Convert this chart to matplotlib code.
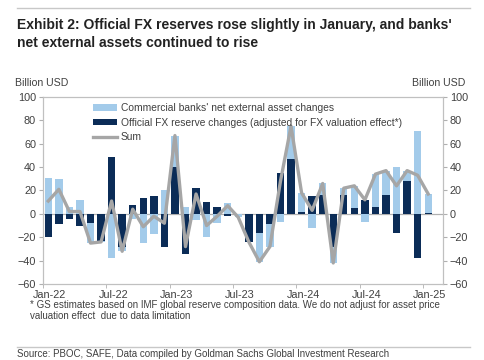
import matplotlib
matplotlib.use("Agg")
import numpy as np
import matplotlib.pyplot as plt

# monthly data, Jan-22 .. Jan-25 (billion USD)
months = ["Jan-22", "Jul-22", "Jan-23", "Jul-23", "Jan-24", "Jul-24", "Jan-25"]
commercial = [31, 30, 6, 12, -17, -1, -38, -4, -4, -25, -17, 20, 27, 6, -5, -20, -8, 9, -3,
              0, -25, -19, -7, 28, 16, -12, 10, -14, 6, 19, -7, 28, 21, 40, 9, 71, 16]
official = [-20, -9, -4, -10, -8, -23, 49, -28, 8, 14, 15, -28, 40, -34, 22, 10, 6, -2, 0,
            -24, -16, -9, 35, 47, 2, 15, 16, -28, 16, 5, 12, 6, 16, -16, 28, -38, 1]
total = [11, 21, 2, 2, -25, -24, 11, -32, 4, -11, -2, -8, 67, -28, 17, -10, -2, 7, -3,
         -24, -41, -28, 28, 75, 18, 3, 26, -42, 22, 24, 12, 34, 37, 24, 37, 33, 17]

LIGHT = "#a3cbea"
DARK = "#0b2c57"
GREY = "#a6a6a6"
TXT = "#404040"

plt.rcParams["font.family"] = ["Liberation Sans", "DejaVu Sans"]

fig = plt.figure(figsize=(4.85, 3.6), dpi=100)
ax = fig.add_axes([0.0887, 0.2111, 0.8247, 0.5195])

x = np.arange(len(official))
off = np.array(official, dtype=float)
com = np.array(commercial, dtype=float)

# stack: official nearest zero, commercial on top when the sign agrees
base = np.where(np.sign(com) == np.sign(off), off, 0.0)
b1 = ax.bar(x, com, bottom=base, width=0.7, color=LIGHT, zorder=2)
b2 = ax.bar(x, off, width=0.7, color=DARK, zorder=3)
l1, = ax.plot(x, total, color=GREY, lw=2.4, zorder=4)
ax.axhline(0, color="#b0b0b0", lw=0.9, zorder=1)

ax.set_xlim(-0.5, 37.4)
ax.set_ylim(-60, 100)
ax.set_yticks(range(-60, 101, 20))
ax.set_xticks(np.arange(0, 37, 6) + 0.15)
ax.set_xticklabels(months, fontsize=7.8, color=TXT)
ax.set_xticks(np.arange(-0.5, 37, 6), minor=True)
ax.tick_params(axis="x", which="major", length=0, pad=4)
ax.tick_params(axis="x", which="minor", length=3, color="#b0b0b0")
ax.tick_params(axis="y", labelsize=7.8, labelcolor=TXT, length=3, color="#b0b0b0", pad=2)

ax2 = ax.twinx()
ax2.set_ylim(-60, 100)
ax2.set_yticks(range(-60, 101, 20))
ax2.tick_params(axis="y", labelsize=7.8, labelcolor=TXT, length=3, color="#b0b0b0", pad=2)

for a in (ax, ax2):
    for s in a.spines.values():
        s.set_color("#c0c0c0")
        s.set_linewidth(0.8)

ax.legend([b1, b2, l1],
          ["Commercial banks' net external asset changes",
           "Official FX reserve changes (adjusted for FX valuation effect*)",
           "Sum"],
          loc="upper left", bbox_to_anchor=(0.11, 1.0), frameon=False, fontsize=7.4,
          handlelength=2.3, handleheight=0.55, labelspacing=0.45, borderaxespad=0.2,
          handletextpad=0.4, labelcolor=TXT)

fig.text(0.086, 0.755, "Billion USD", fontsize=7.6, color=TXT, ha="center", va="bottom")
fig.text(0.905, 0.755, "Billion USD", fontsize=7.6, color=TXT, ha="center", va="bottom")

# header / footer
fig.add_artist(plt.Line2D([0.035, 0.97], [0.978, 0.978], color="#c8c8c8", lw=1.0))
fig.text(0.035, 0.95, "Exhibit 2: Official FX reserves rose slightly in January, and banks'\n"
         "net external assets continued to rise",
         fontsize=10, fontweight="bold", color="#222222", va="top", linespacing=1.35)
fig.text(0.062, 0.168, "* GS estimates based on IMF global reserve composition data. We do not adjust for asset price\n"
         "valuation effect  due to data limitation", fontsize=7.0, color=TXT, va="top",
         linespacing=1.2)
fig.add_artist(plt.Line2D([0.035, 0.97], [0.035, 0.035], color="#c8c8c8", lw=1.0))
fig.text(0.035, 0.003, "Source: PBOC, SAFE, Data compiled by Goldman Sachs Global Investment Research",
         fontsize=7.0, color=TXT, va="bottom")

fig.savefig("out.png", dpi=100)
